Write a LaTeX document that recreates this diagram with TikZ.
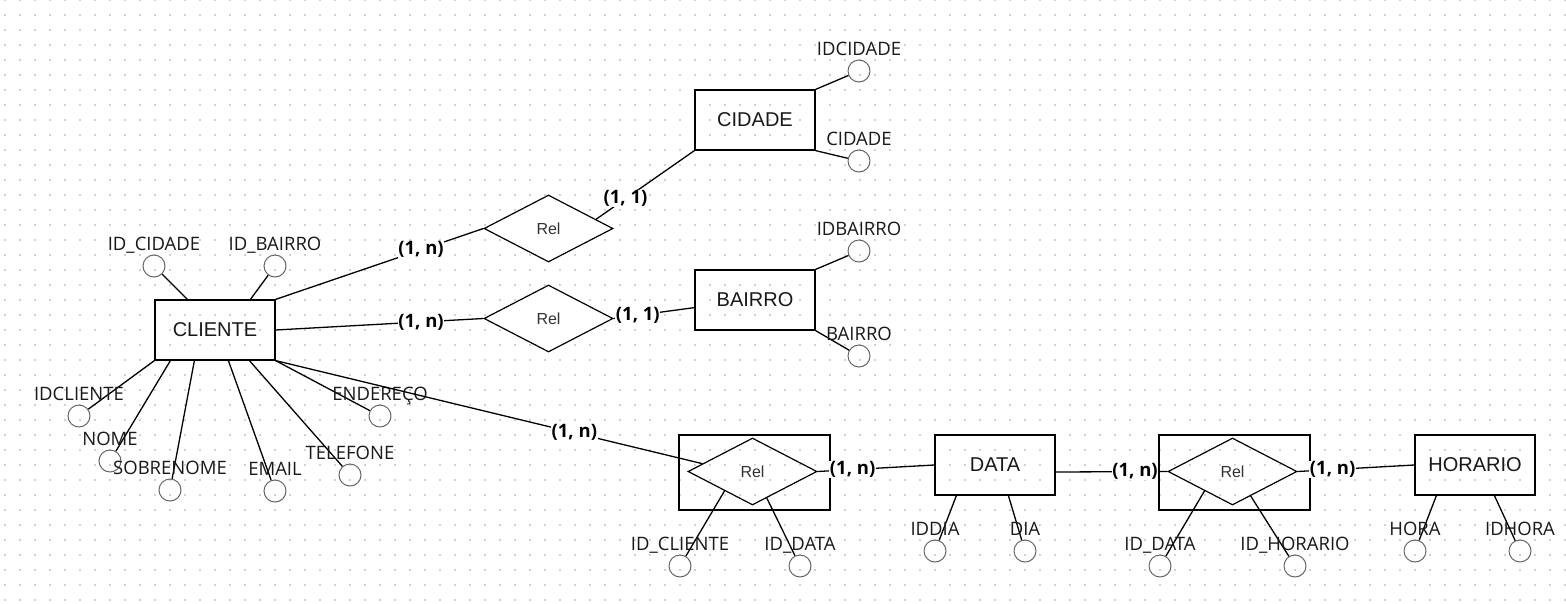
\documentclass[tikz,border=0pt]{standalone}
\usepackage{fontspec}
\usetikzlibrary{shapes.geometric,calc}
\newfontfamily\attrfont{Open Sans}
\newfontfamily\entfont{Liberation Sans}
\begin{document}
\begin{tikzpicture}[x=1pt,y=-1pt,
  entity/.style={draw,line width=1.2pt,minimum width=120pt,minimum height=60pt,inner sep=0pt,
    font=\entfont\fontsize{20}{24}\selectfont,text=black!90},
  relbox/.style={draw,line width=1.2pt,minimum width=151pt,minimum height=75pt,inner sep=0pt},
  rel/.style={diamond,draw,line width=1.2pt,minimum width=129pt,minimum height=67pt,inner sep=0pt,
    font=\entfont\fontsize{16}{19}\selectfont,text=black!80,fill=white},
  attr/.style={circle,draw=black!60,line width=1pt,minimum size=22pt,inner sep=0pt},
  alabel/.style={anchor=base,inner sep=0pt,font=\attrfont\fontsize{18.5}{22}\selectfont,text=black!90},
  card/.style={fill=white,inner sep=0.5pt,font=\attrfont\bfseries\fontsize{18.5}{22}\selectfont},
  conn/.style={line width=1.3pt}]
\useasboundingbox (0,0) rectangle (1566,603);
\fill[white] (0,0) rectangle (1566,603);
% dotted grid
\foreach \j in {0,...,40}{
  \draw[black!18,line width=1.1pt,dash pattern=on 1.1pt off 13.9pt] (4.45,15*\j) -- (1566,15*\j);
}
% entities
\node[entity] (cliente) at (215,330) {CLIENTE};
\node[entity] (cidade) at (755,120) {CIDADE};
\node[entity] (bairro) at (755,300) {BAIRRO};
\node[entity] (data) at (995,465) {DATA};
\node[entity] (horario) at (1475,465) {HORARIO};
\node[relbox] (box1) at (754.5,472.5) {};
\node[relbox] (box2) at (1234.5,472.5) {};
\node[rel] (rel1) at (548.5,228.5) {Rel};
\node[rel] (rel2) at (548.5,318.5) {Rel};
\node[rel,fill=none] (rel3) at (752.5,471.5) {Rel};
\node[rel,fill=none] (rel4) at (1232.5,471.5) {Rel};
% attribute circles
\foreach \n/\x/\y in {aidcidc/154/266, aidbaic/275/266, aidcli/79/416, anome/110/461,
  asobre/170/490, aemail/275/491, atel/350/475, aend/380/416,
  aidcid/859/71, acid/859/161, aidbai/859/251, abai/859/356,
  aidcli2/680/566, aiddata/800/566, aiddia/935/551, adia/1025/551,
  aiddata2/1160/566, aidhor/1295/566, ahora/1415/551, aidhora/1520/551}{
  \node[attr] (\n) at (\x,\y) {};
}
% attribute connectors
\draw[conn] ($(cliente.north west)+(33,0)$) -- (aidcidc);
\draw[conn] ($(cliente.north west)+(96,0)$) -- (aidbaic);
\draw[conn] (cliente.south west) -- (aidcli);
\draw[conn] ($(cliente.south west)+(16,0)$) -- (anome);
\draw[conn] ($(cliente.south west)+(40,0)$) -- (asobre);
\draw[conn] ($(cliente.south west)+(74,0)$) -- (aemail);
\draw[conn] ($(cliente.south west)+(95,0)$) -- (atel);
\draw[conn] (cliente.south east) -- (aend);
\draw[conn] (cidade.north east) -- (aidcid);
\draw[conn] (cidade.south east) -- (acid);
\draw[conn] (bairro.north east) -- (aidbai);
\draw[conn] (bairro.south east) -- (abai);
\draw[conn] ($(rel3.west)!0.57!(rel3.south)$) -- (aidcli2);
\draw[conn] ($(rel3.south)!0.22!(rel3.east)$) -- (aiddata);
\draw[conn] ($(data.south west)+(22,0)$) -- (aiddia);
\draw[conn] ($(data.south west)+(74,0)$) -- (adia);
\draw[conn] ($(rel4.west)!0.57!(rel4.south)$) -- (aiddata2);
\draw[conn] ($(rel4.south)!0.28!(rel4.east)$) -- (aidhor);
\draw[conn] ($(horario.south west)+(22,0)$) -- (ahora);
\draw[conn] ($(horario.south west)+(80,0)$) -- (aidhora);
% attribute labels
\foreach \n/\t in {aidcidc/ID\_CIDADE, aidbaic/ID\_BAIRRO, aidcli/IDCLIENTE, anome/NOME,
  asobre/SOBRENOME, aemail/EMAIL, atel/TELEFONE, aend/ENDEREÇO,
  aidcid/IDCIDADE, acid/CIDADE, aidbai/IDBAIRRO, abai/BAIRRO,
  aidcli2/ID\_CLIENTE, aiddata/ID\_DATA, aiddia/IDDIA, adia/DIA,
  aiddata2/ID\_DATA, aidhor/ID\_HORARIO, ahora/HORA, aidhora/IDHORA}{
  \node[alabel] (l\n) at ($(\n.center)+(0,-16)$) {\t};
}
% relationship connectors
\draw[conn] (cliente.north east) -- node[card,pos=0.7] (c1) {(1, n)} (rel1.west);
\draw[conn] (cliente.east) -- node[card,pos=0.7] (c2) {(1, n)} (rel2.west);
\draw[conn] (cliente.south east) -- node[card,pos=0.7] (c3) {(1, n)} ($(rel3.west)!0.23!(rel3.north)$);
\draw[conn] ($(rel1.north)!0.73!(rel1.east)$) -- node[card,pos=0.3] (c4) {(1, 1)} (cidade.south west);
\draw[conn] (rel2.east) -- node[card,pos=0.3] (c5) {(1, 1)} ($(bairro.south west)+(0,-23)$);
\draw[conn] (rel3.east) -- node[card,pos=0.3] (c6) {(1, n)} (data.west);
\draw[conn] ($(data.east)+(0,7)$) -- node[card,pos=0.71] (c7) {(1, n)} (rel4.west);
\draw[conn] (rel4.east) -- node[card,pos=0.3] (c8) {(1, n)} (horario.west);
\end{tikzpicture}
\end{document}
